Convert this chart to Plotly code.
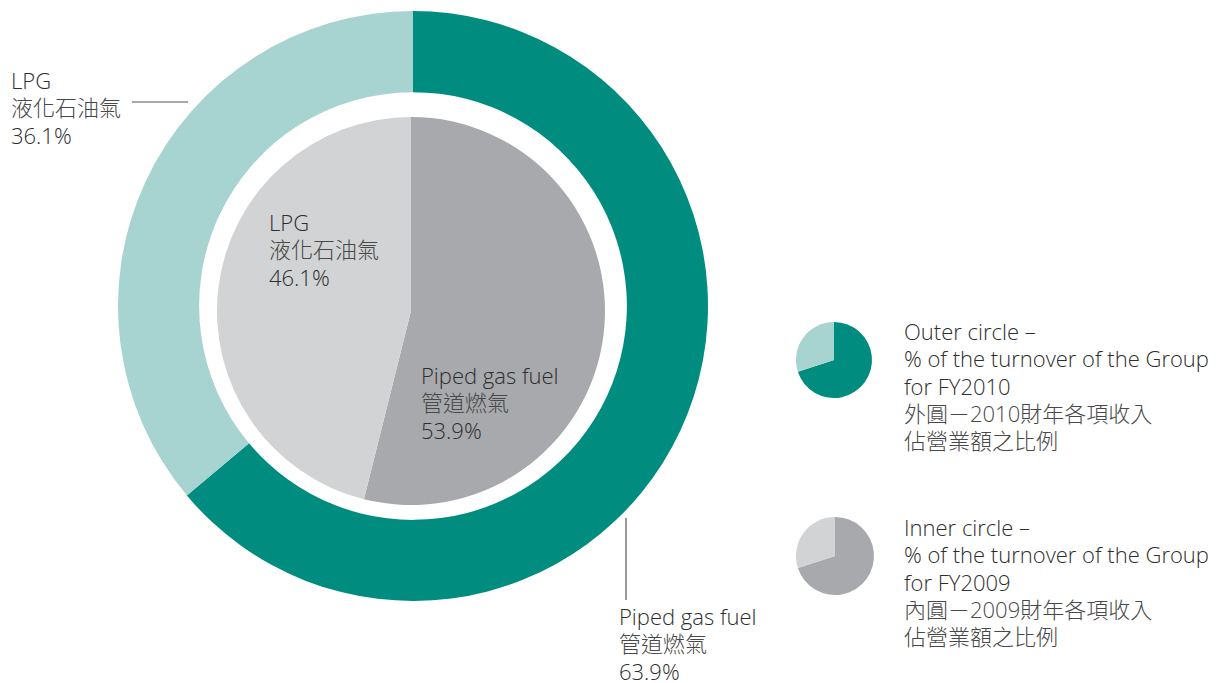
import plotly.graph_objects as go

# ---- data ----
segments = ["Piped gas fuel", "LPG"]
segments_zh = ["管道燃氣", "液化石油氣"]
outer_fy2010 = [63.9, 36.1]
inner_fy2009 = [53.9, 46.1]
icon_values = [70, 30]

legend_outer_en = ["Outer circle –", "% of the turnover of the Group", "for FY2010"]
legend_outer_zh = ["外圓－2010財年各項收入", "佔營業額之比例"]
legend_inner_en = ["Inner circle –", "% of the turnover of the Group", "for FY2009"]
legend_inner_zh = ["內圓－2009財年各項收入", "佔營業額之比例"]

# ---- styles ----
OFF = 8  # page body margin
W, H = 1218 - OFF, 683 - OFF
TEAL, LTEAL = "#008c7e", "#a7d3d0"
DGREY, LGREY = "#a7a9ac", "#d1d3d4"
TXT = "#2e2e2e"
FONT = "Open Sans, Noto Sans CJK TC, sans-serif"


def fx(px):
    return (px - OFF) / W


def fy(py):
    return 1 - (py - OFF) / H


def dom(cx, cy, r):
    return dict(x=[fx(cx - r), fx(cx + r)], y=[fy(cy + r), fy(cy - r)])


def pie(values, colors, domain, hole=0):
    return go.Pie(values=values, labels=segments, sort=False, direction="clockwise",
                  rotation=0, hole=hole, marker=dict(colors=colors, line=dict(width=0)),
                  textinfo="none", hoverinfo="skip", showlegend=False, domain=domain)


fig = go.Figure()
fig.add_trace(pie(outer_fy2010, [TEAL, LTEAL], dom(413, 306, 295), hole=0.725))
fig.add_trace(pie(inner_fy2009, [DGREY, LGREY], dom(411, 311, 194)))
fig.add_trace(pie(icon_values, [TEAL, LTEAL], dom(834, 360, 38)))
fig.add_trace(pie(icon_values, [DGREY, LGREY], dom(835, 556, 39)))


def en(s):
    return f'<span style="font-size:22px">{s}</span>'


def zh(s):
    return f'<span style="font-size:22px;color:#484848">{s}</span>'


def label(idx, values):
    return "<br>".join([en(segments[idx]), zh(segments_zh[idx]), en(f"{values[idx]:.1f}%")])


def ann(text, x, y):
    fig.add_annotation(text=text, x=fx(x), y=fy(y), xref="paper", yref="paper",
                       xanchor="left", yanchor="middle", align="left", showarrow=False,
                       borderpad=0,
                       font=dict(family=FONT, size=21, color=TXT, weight=300))


ann(label(1, outer_fy2010), 10, 107)
ann(label(0, outer_fy2010), 618, 643)
ann(label(1, inner_fy2009), 268, 249)
ann(label(0, inner_fy2009), 420, 403)
ann("<br>".join([en(s) for s in legend_outer_en] + [zh(s) for s in legend_outer_zh]), 903, 385)
ann("<br>".join([en(s) for s in legend_inner_en] + [zh(s) for s in legend_inner_zh]), 903, 581)

fig.add_shape(type="line", xref="paper", yref="paper", x0=fx(132), x1=fx(188),
              y0=fy(102), y1=fy(102), line=dict(color="#555555", width=1.2))
fig.add_shape(type="line", xref="paper", yref="paper", x0=fx(626), x1=fx(626),
              y0=fy(518), y1=fy(600), line=dict(color="#555555", width=1.2))

fig.update_layout(width=W, height=H, margin=dict(l=0, r=0, t=0, b=0),
                  paper_bgcolor="white", plot_bgcolor="white")
fig.write_html("out.html")
